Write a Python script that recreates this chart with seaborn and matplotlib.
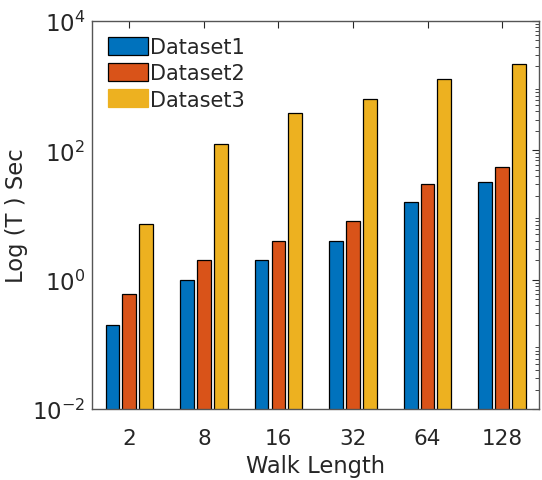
import matplotlib
matplotlib.use("Agg")
import matplotlib.pyplot as plt
import matplotlib.ticker as mticker
import numpy as np
import pandas as pd
import seaborn as sns

# --- data ---
walk_lengths = ["2", "8", "16", "32", "64", "128"]
dataset1 = [0.2, 1, 2, 4, 16, 32]
dataset2 = [0.6, 2, 4, 8, 30, 56]
dataset3 = [7.2, 125, 380, 620, 1250, 2180]
series_names = ["Dataset1", "Dataset2", "Dataset3"]
colors = ["#0072BD", "#D95319", "#EDB120"]

df = pd.DataFrame({
    "walk": walk_lengths * 3,
    "time": dataset1 + dataset2 + dataset3,
    "dataset": np.repeat(series_names, len(walk_lengths)),
})

sns.set_style("white")
plt.rcParams["font.family"] = ["DejaVu Sans"]
text_color = "#262626"

fig = plt.figure(figsize=(5.42, 4.81), dpi=100)
ax = fig.add_axes([0.170, 0.1476, 0.825, 0.8066])

sns.barplot(
    data=df,
    x="walk",
    y="time",
    hue="dataset",
    order=walk_lengths,
    hue_order=series_names,
    palette=colors,
    saturation=1,
    width=0.68,
    gap=0.18,
    edgecolor="black",
    linewidth=0.9,
    ax=ax,
)

ax.set_yscale("log")
ax.set_ylim(1e-2, 1e4)
ax.set_xlim(-0.5, 5.5)
ax.yaxis.set_major_locator(mticker.FixedLocator([1e-2, 1e0, 1e2, 1e4]))
ax.yaxis.set_minor_locator(mticker.LogLocator(base=10, subs=np.arange(2, 10), numticks=20))
ax.yaxis.set_minor_formatter(mticker.NullFormatter())

ax.tick_params(axis="both", which="both", direction="in", top=True, right=True,
               colors=text_color)
ax.tick_params(axis="x", which="major", labelsize=15.5, pad=14)
ax.tick_params(axis="y", which="major", labelsize=16.5, pad=5)
ax.tick_params(axis="both", which="major", length=5, width=0.8)
ax.tick_params(axis="y", which="minor", length=3, width=0.6)
ax.tick_params(axis="x", which="minor", bottom=False, top=False)
for side in ["left", "right", "top", "bottom"]:
    ax.spines[side].set_visible(True)
    ax.spines[side].set_color("#555555")
    ax.spines[side].set_linewidth(1.0)

ax.set_xlabel("Walk Length", fontsize=16.3, color=text_color, labelpad=4)
ax.set_ylabel("Log (T ) Sec", fontsize=16.3, color=text_color, labelpad=3)

leg = ax.legend(
    loc="upper left",
    frameon=False,
    fontsize=15,
    handlelength=1.95,
    handleheight=0.95,
    handletextpad=0.1,
    labelspacing=0.3,
    borderaxespad=0.35,
    borderpad=0.4,
)
# last legend swatch has no outline in the original
leg.legend_handles[2].set_edgecolor(colors[2])

fig.savefig("out.png", dpi=100)
